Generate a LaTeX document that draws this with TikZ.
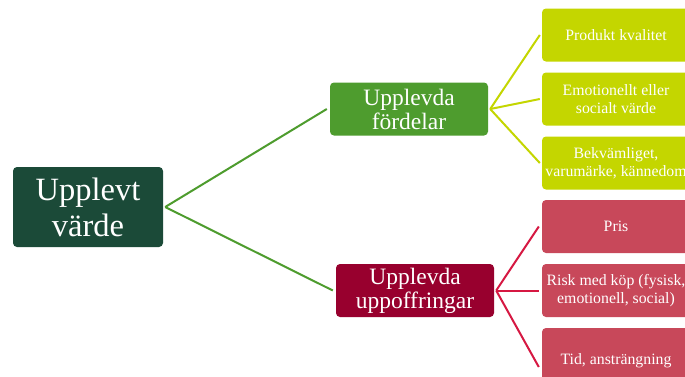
\documentclass[tikz,border=0pt]{standalone}
\usepackage{fontspec}
\setmainfont{Liberation Serif}
\definecolor{rootc}{RGB}{27,74,56}
\definecolor{benc}{RGB}{78,156,46}
\definecolor{sacc}{RGB}{152,0,46}
\definecolor{lgreen}{RGB}{196,214,0}
\definecolor{lred}{RGB}{200,72,90}
\definecolor{redline}{RGB}{214,24,66}
\tikzset{
  box/.style={rounded corners=4pt, text=white, align=center, inner sep=0pt},
  rootbox/.style={box, fill=rootc, minimum width=150pt, minimum height=80pt, font=\fontsize{32.5}{36}\selectfont},
  midbox/.style={box, minimum width=158pt, minimum height=53pt, font=\fontsize{23.5}{24}\selectfont},
  leafbox/.style={box, minimum width=148pt, minimum height=53pt, font=\fontsize{15.8}{18}\selectfont},
  conn/.style={line width=2pt}
}
\begin{document}
\begin{tikzpicture}[x=1pt,y=-1pt]
\useasboundingbox (0,0) rectangle (685,376);
\clip (0,0) rectangle (685,376);
\fill[white] (0,0) rectangle (685,376);
\node[rootbox] (root) at (88,207) {Upplevt\\värde};
\node[midbox, fill=benc] (ben) at (409,109) {Upplevda\\fördelar};
\node[midbox, fill=sacc] (sac) at (415,290.5) {Upplevda\\uppoffringar};
\node[leafbox, fill=lgreen] (g1) at (616,35) {Produkt kvalitet};
\node[leafbox, fill=lgreen] (g2) at (616,99) {Emotionellt eller\\socialt värde};
\node[leafbox, fill=lgreen] (g3) at (616,163) {Bekvämliget,\\varumärke, kännedom};
\node[leafbox, fill=lred] (r1) at (616,226.5) {Pris};
\node[leafbox, fill=lred] (r2) at (616,290.5) {Risk med köp (fysisk,\\emotionell, social)};
\node[leafbox, fill=lred, minimum height=66pt] (r3) at (616,361) {Tid, ansträngning};
\coordinate (r3in) at ([yshift=-6pt]r3.west);
\draw[conn, benc] ([xshift=2pt]root.east) -- ([xshift=-3pt]ben.west);
\draw[conn, benc] ([xshift=2pt]root.east) -- ([xshift=-3pt]sac.west);
\foreach \t in {g1,g2,g3}
  \draw[conn, lgreen] ([xshift=2pt]ben.east) -- ([xshift=-2pt]\t.west);
\foreach \t in {r1,r2}
  \draw[conn, redline] ([xshift=2pt]sac.east) -- ([xshift=-3pt]\t.west);
\draw[conn, redline] ([xshift=2pt]sac.east) -- ([xshift=-3pt]r3in);
\end{tikzpicture}
\end{document}
